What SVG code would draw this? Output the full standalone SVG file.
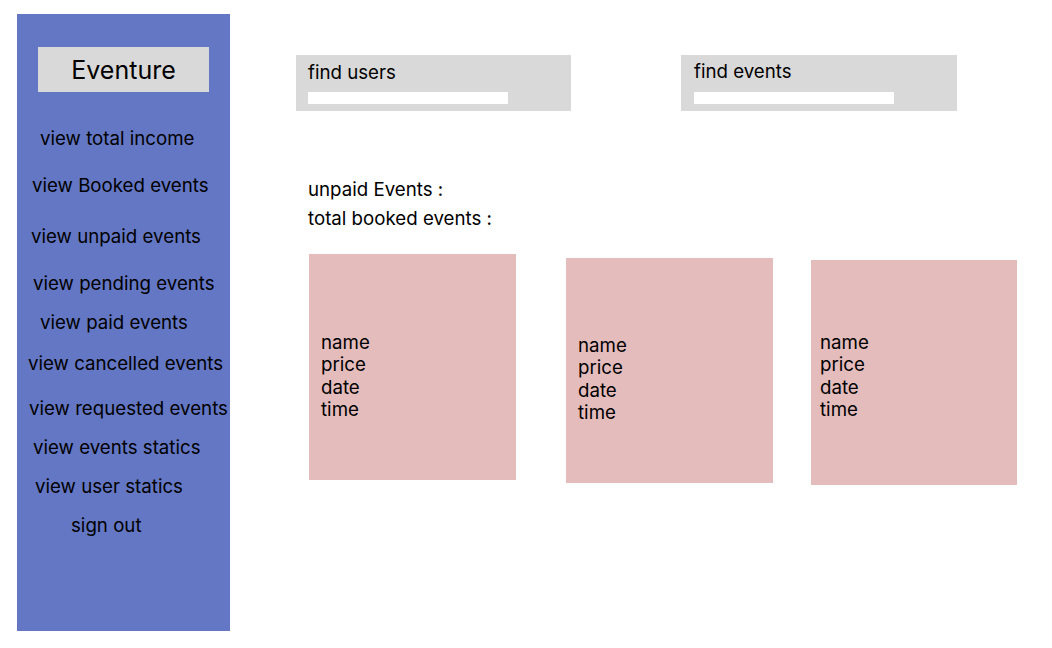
<svg xmlns="http://www.w3.org/2000/svg" width="1052" height="648" viewBox="0 0 1052 648">
<style>
text{font-family:Inter,"Noto Sans","Liberation Sans",sans-serif;fill:#000;}
.m{font-size:18.7px;}
.c{font-size:18.7px;}
.card{fill:#E4BCBC;}
.box{fill:#D9D9D9;}
.bar{fill:#FFFFFF;}
</style>
<rect width="1052" height="648" fill="#FFFFFF"/>
<g id="sidebar">
<rect x="17" y="14" width="213" height="617" fill="#6477C4"/>
<rect x="38" y="47" width="171" height="45" class="box"/>
<text x="123.5" y="79" font-size="25" text-anchor="middle">Eventure</text>
<text class="m" x="40" y="144.5">view total income</text>
<text class="m" x="32" y="191.5">view Booked events</text>
<text class="m" x="31" y="242.5">view unpaid events</text>
<text class="m" x="33" y="289.5">view pending events</text>
<text class="m" x="40" y="328.5">view paid events</text>
<text class="m" x="28" y="369.5">view cancelled events</text>
<text class="m" x="29" y="414.5">view requested events</text>
<text class="m" x="33" y="453.5">view events statics</text>
<text class="m" x="35" y="492.5">view user statics</text>
<text class="m" x="71" y="531.5">sign out</text>
</g>
<g id="find-users">
<rect x="296" y="55" width="275" height="56" class="box"/>
<rect x="308" y="92" width="200" height="12" class="bar"/>
<text class="c" x="308" y="78.5">find users</text>
</g>
<g id="find-events">
<rect x="681" y="55" width="276" height="56" class="box"/>
<rect x="694" y="92" width="200" height="12" class="bar"/>
<text class="c" x="694" y="77.5">find events</text>
</g>
<g id="summary">
<text class="c" x="308" y="195.5">unpaid Events :</text>
<text class="c" x="308" y="224.5">total booked events :</text>
</g>
<g id="card1">
<rect x="309" y="254" width="207" height="226" class="card"/>
<text class="c" x="321" y="348.5">name</text>
<text class="c" x="321" y="371">price</text>
<text class="c" x="321" y="393.5">date</text>
<text class="c" x="321" y="416">time</text>
</g>
<g id="card2">
<rect x="566" y="258" width="207" height="225" class="card"/>
<text class="c" x="578" y="351.5">name</text>
<text class="c" x="578" y="374">price</text>
<text class="c" x="578" y="396.5">date</text>
<text class="c" x="578" y="419">time</text>
</g>
<g id="card3">
<rect x="811" y="260" width="206" height="225" class="card"/>
<text class="c" x="820" y="348.5">name</text>
<text class="c" x="820" y="371">price</text>
<text class="c" x="820" y="393.5">date</text>
<text class="c" x="820" y="416">time</text>
</g>
<g id="connectors"></g>
</svg>
